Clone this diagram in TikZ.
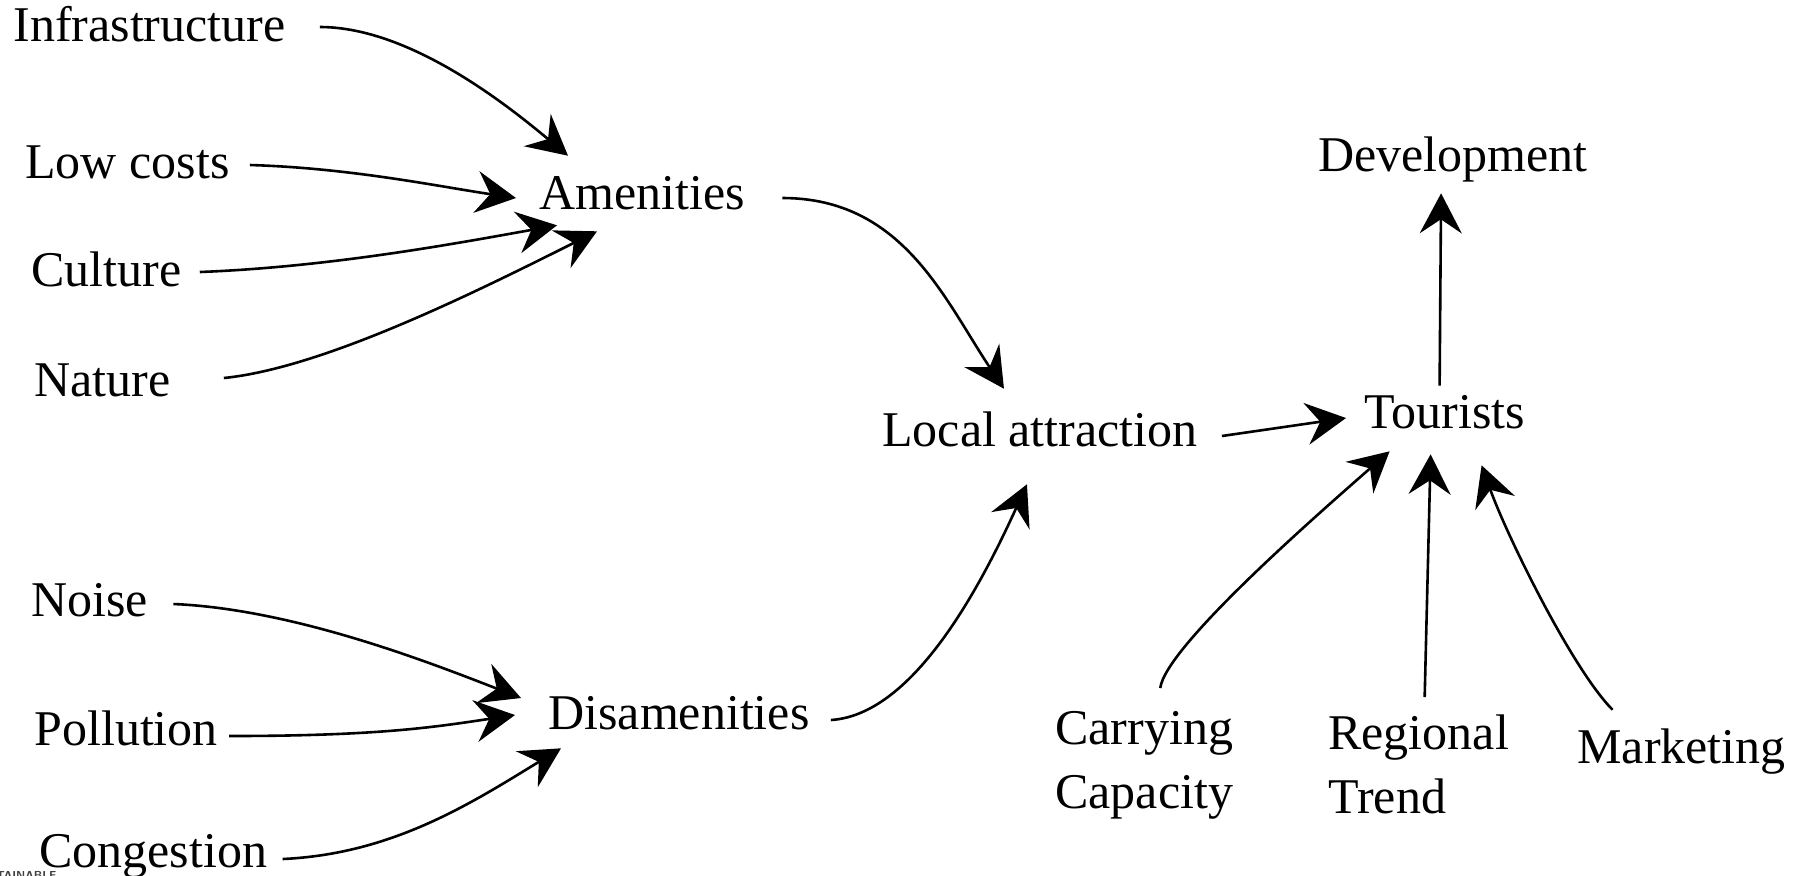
\documentclass[tikz,border=0pt]{standalone}
\usepackage{fontspec}
\setmainfont{Liberation Serif}
\usetikzlibrary{arrows.meta}

\begin{document}
\begin{tikzpicture}[x=0.5pt,y=0.5pt,yscale=-1,xscale=1,
	word/.style={anchor=west,inner sep=0pt,font=\fontsize{25}{32}\selectfont,text height=18.7pt,text depth=6.2pt},
	twoline/.style={anchor=north west,inner sep=0pt,align=left,font=\fontsize{25}{32}\selectfont},
	link/.style={line width=1.3pt,-{Stealth[length=20pt,width=21pt,inset=7pt]}}]
	\useasboundingbox (0,0) rectangle (1803,875);

	% Text Node
	\node [word] (infra) at (13,29) {Infrastructure};
	% Text Node
	\node [word] (lowcost) at (25,166) {Low costs};
	% Text Node
	\node [word] (culture) at (31,274) {Culture};
	% Text Node
	\node [word] (nature) at (34,384) {Nature};
	% Text Node
	\node [word] (noise) at (31,604) {Noise};
	% Text Node
	\node [word] (pollut) at (34,733) {Pollution};
	% Text Node
	\node [word] (congest) at (39,855) {Congestion};
	% Text Node
	\node [word] (amen) at (539,197) {Amenities};
	% Text Node
	\node [word] (disamen) at (548,717) {Disamenities};
	% Text Node
	\node [word] (local) at (882,434) {Local attraction};
	% Text Node
	\node [word] (tourist) at (1364,416) {Tourists};
	% Text Node
	\node [word] (develop) at (1318,159) {Development};
	% Text Node
	\node [twoline] (carry) at (1055,711) {Carrying\\Capacity};
	% Text Node
	\node [twoline] (region) at (1328,714) {Regional\\Trend};
	% Text Node
	\node [word] (market) at (1577,751) {Marketing};
	% Text Node
	\node [anchor=west,inner sep=0pt,font=\sffamily\bfseries\fontsize{5.8}{6}\selectfont,color=black!75] (logo) at (-4,875) {TAINABLE};

	%Shape: amenities side
	\draw [link] ([shift={(34,-2)}]infra.east) .. controls +(90,0) and +(-60,-50) .. ([shift={(29,-16)}]amen.north west);
	\draw [link] ([shift={(20,-1)}]lowcost.east) .. controls +(100,3) and +(-80,-12) .. ([shift={(-23,1)}]amen.west);
	\draw [link] ([shift={(18,-2)}]culture.east) .. controls +(130,-5) and +(-100,18) .. ([shift={(18,3)}]amen.south west);
	\draw [link] ([shift={(53,-6)}]nature.east) .. controls +(100,-10) and +(-120,60) .. ([shift={(58,9)}]amen.south west);
	%Shape: disamenities side
	\draw [link] ([shift={(25,0)}]noise.east) .. controls +(120,5) and +(-90,-35) .. ([shift={(-27,-19)}]disamen.west);
	\draw [link] ([shift={(11,3)}]pollut.east) .. controls +(150,0) and +(-80,12) .. ([shift={(-33,-2)}]disamen.west);
	\draw [link] ([shift={(15,4)}]congest.east) .. controls +(110,-5) and +(-90,55) .. ([shift={(13,6)}]disamen.south west);
	%Shape: into local attraction
	\draw [link] ([shift={(37,1)}]amen.east) .. controls +(120,0) and +(-60,-90) .. ([shift={(-36,-20)}]local.north);
	\draw [link] ([shift={(21,3)}]disamen.east) .. controls +(80,-5) and +(-50,110) .. ([shift={(-13,25)}]local.south);
	%Shape: tourists
	\draw [link] ([shift={(24,2)}]local.east) -- ([shift={(-18,2)}]tourist.west);
	\draw [link] ([shift={(-5,-5)}]tourist.north) -- ([shift={(-12,9)}]develop.south);
	\draw [link] ([shift={(16,-23)}]carry.north) .. controls +(5,-40) and +(-80,70) .. ([shift={(-55,10)}]tourist.south);
	\draw [link] ([shift={(6,-17)}]region.north) -- ([shift={(-14,13)}]tourist.south);
	\draw [link] ([shift={(-69,-16)}]market.north) .. controls +(-40,-40) and +(25,70) .. ([shift={(37,24)}]tourist.south);

\end{tikzpicture}
\end{document}
